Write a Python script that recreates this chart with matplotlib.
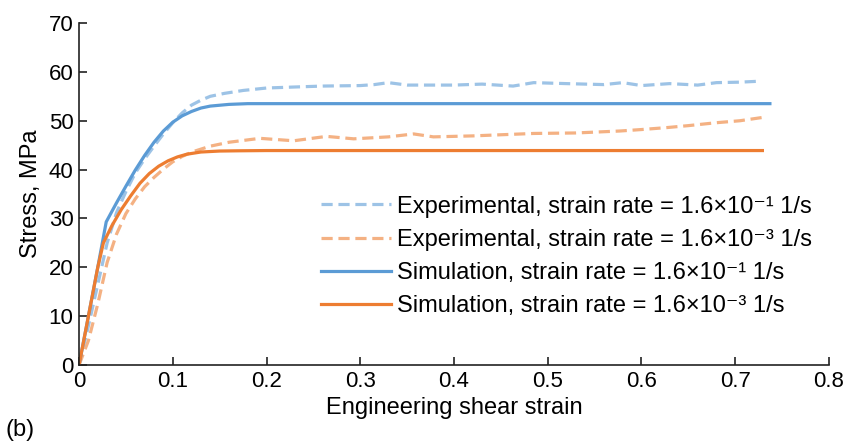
import matplotlib
matplotlib.use("Agg")
import matplotlib.pyplot as plt

plt.rcParams['font.family'] = ['Liberation Sans', 'DejaVu Sans']

# Experimental, 1.6e-1
exp1_x = [0, 0.01, 0.02, 0.03, 0.04, 0.05, 0.06, 0.07, 0.08, 0.09, 0.1, 0.11, 0.12, 0.13, 0.14, 0.155,
          0.175, 0.2, 0.229, 0.26, 0.3, 0.315, 0.33, 0.35, 0.4, 0.43, 0.463, 0.485, 0.52, 0.56, 0.58,
          0.6, 0.63, 0.66, 0.68, 0.705, 0.727]
exp1_y = [0, 8, 16.5, 25, 31.2, 35.5, 39.3, 42.2, 44.8, 47.3, 49.6, 51.6, 53.2, 54.2, 55.0, 55.6,
          56.2, 56.7, 56.9, 57.1, 57.2, 57.4, 57.8, 57.3, 57.3, 57.5, 57.1, 57.8, 57.6, 57.4, 57.8,
          57.2, 57.6, 57.3, 57.8, 57.9, 58.1]
# Experimental, 1.6e-3
exp3_x = [0, 0.01, 0.02, 0.03, 0.04, 0.05, 0.06, 0.07, 0.08, 0.09, 0.1, 0.11, 0.122, 0.14, 0.16,
          0.193, 0.229, 0.264, 0.293, 0.33, 0.357, 0.378, 0.42, 0.485, 0.53, 0.577, 0.6, 0.627,
          0.65, 0.68, 0.705, 0.73]
exp3_y = [0, 5, 12.5, 21, 26.8, 31, 34, 36.5, 38.4, 40.1, 41.6, 42.7, 43.7, 44.8, 45.6,
          46.4, 45.9, 46.8, 46.3, 46.7, 47.3, 46.7, 46.9, 47.4, 47.5, 47.9, 48.2, 48.6,
          49.0, 49.6, 50.0, 50.7]
# Simulation, 1.6e-1
sim1_x = [0, 0.01, 0.02, 0.029, 0.04, 0.05, 0.06, 0.07, 0.08, 0.09, 0.1, 0.11, 0.12,
          0.13, 0.14, 0.16, 0.18, 0.2, 0.737]
sim1_y = [0, 10, 20, 29.3, 33.2, 36.6, 39.9, 42.9, 45.6, 47.9, 49.7, 51.0, 51.9,
          52.6, 53.0, 53.35, 53.5, 53.5, 53.5]
# Simulation, 1.6e-3
sim3_x = [0, 0.01, 0.02, 0.026, 0.035, 0.045, 0.055, 0.065, 0.075, 0.085, 0.095, 0.105, 0.115,
          0.13, 0.15, 0.17, 0.2, 0.729]
sim3_y = [0, 10, 20, 25, 28.5, 31.8, 34.6, 37.2, 39.2, 40.7, 41.8, 42.6, 43.15,
          43.6, 43.8, 43.85, 43.9, 43.9]

labels = ["Experimental, strain rate = 1.6×10\u207b\u00b9 1/s",
          "Experimental, strain rate = 1.6×10\u207b\u00b3 1/s",
          "Simulation, strain rate = 1.6×10\u207b\u00b9 1/s",
          "Simulation, strain rate = 1.6×10\u207b\u00b3 1/s"]

c_blue = '#5B9BD5'
c_orange = '#ED7D31'
c_lblue = '#9DC3E6'
c_lorange = '#F4B183'

fig = plt.figure(figsize=(8.6, 4.43), dpi=100)
ax = fig.add_axes([0.0919, 0.176, 0.872, 0.772])

lw = 2.3
kw = dict(solid_joinstyle='round', dash_joinstyle='round')
ax.plot(exp1_x, exp1_y, color=c_lblue, lw=lw, ls=(0, (3.5, 1.8)), label=labels[0], **kw)
ax.plot(exp3_x, exp3_y, color=c_lorange, lw=lw, ls=(0, (3.5, 1.8)), label=labels[1], **kw)
ax.plot(sim1_x, sim1_y, color=c_blue, lw=lw, label=labels[2], **kw)
ax.plot(sim3_x, sim3_y, color=c_orange, lw=lw, label=labels[3], **kw)

ax.set_xlim(0, 0.8)
ax.set_ylim(0, 70)
ax.set_xticks([0, 0.1, 0.2, 0.3, 0.4, 0.5, 0.6, 0.7, 0.8])
ax.set_xticklabels(['0', '0.1', '0.2', '0.3', '0.4', '0.5', '0.6', '0.7', '0.8'])
ax.set_yticks(range(0, 71, 10))
for s in ['top', 'right']:
    ax.spines[s].set_visible(False)
for s in ['left', 'bottom']:
    ax.spines[s].set_color('#222222')
    ax.spines[s].set_linewidth(1.2)
ax.tick_params(direction='in', length=6, width=1.2, labelsize=16, colors='#222222', pad=4)
ax.tick_params(labelcolor='black')

ax.set_xlabel('Engineering shear strain', fontsize=17, labelpad=4)
ax.set_ylabel('Stress, MPa', fontsize=17, labelpad=5)

ax.legend(loc='upper left', bbox_to_anchor=(0.322, 0.495), frameon=False, fontsize=17,
          handlelength=3.0, handletextpad=0.25, labelspacing=0.47, borderaxespad=0,
          borderpad=0)

fig.text(0.006, 0.015, '(b)', fontsize=17)

fig.savefig('out.png', dpi=100)
